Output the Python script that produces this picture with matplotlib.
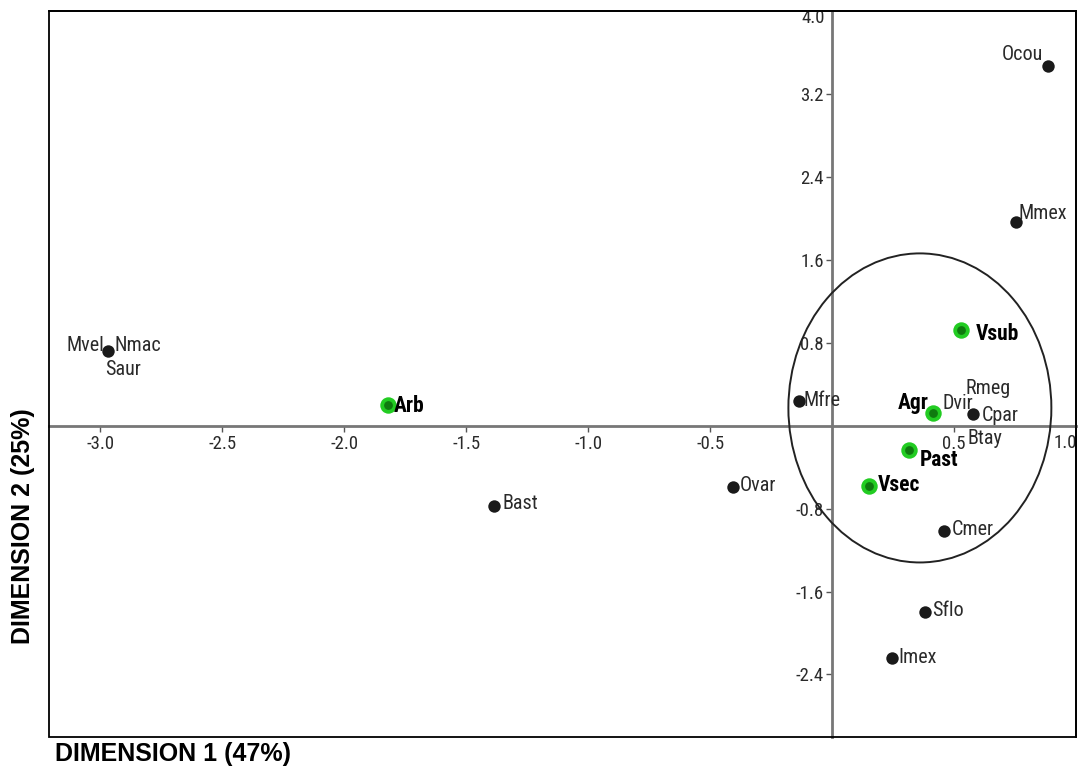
import matplotlib
matplotlib.use("Agg")
import matplotlib.pyplot as plt
from matplotlib.patches import Ellipse, Rectangle

# ---- data ----
species = ["Ocou", "Mmex", "Mvel", "Mfre", "Cpar", "Cmer", "Ovar", "Bast", "Sflo", "Imex"]
species_x = [0.885, 0.752, -2.967, -0.134, 0.576, 0.460, -0.406, -1.384, 0.382, 0.247]
species_y = [3.465, 1.960, 0.720, 0.237, 0.110, -1.018, -0.592, -0.771, -1.800, -2.244]

habitats = ["Vsub", "Arb", "Agr", "Past", "Vsec"]
habitat_x = [0.527, -1.820, 0.415, 0.317, 0.150]
habitat_y = [0.926, 0.199, 0.119, -0.233, -0.586]

# extra labels sharing a point with another species
shared_labels = [("Nmac", "Mvel"), ("Saur", "Mvel"), ("Dvir", "Agr"), ("Rmeg", "Cpar"), ("Btay", "Cpar")]

x_ticks = [-3.0, -2.5, -2.0, -1.5, -1.0, -0.5, 0.5]
y_ticks = [-2.4, -1.6, -0.8, 0.8, 1.6, 2.4, 3.2]

xlabel = "DIMENSION 1 (47%)"
ylabel = "DIMENSION 2 (25%)"

# ---- style ----
narrow = ["Roboto Condensed", "Liberation Sans"]

label_offsets = {  # pixel offsets (dx, dy upward), ha
    "Ocou": (-5, 12, "right"), "Mmex": (3, 9, "left"), "Mvel": (-4, 5, "right"),
    "Nmac": (6, 5, "left"), "Saur": (-3, -19, "left"), "Mfre": (4, 0, "left"),
    "Cpar": (9, -1, "left"), "Rmeg": (-7, 26, "left"), "Btay": (-5, -24, "left"),
    "Dvir": (9, 10, "left"), "Cmer": (7, 2, "left"), "Ovar": (7, 1, "left"),
    "Bast": (8, 2, "left"), "Sflo": (7, 2, "left"), "Imex": (6, 1, "left"),
    "Vsub": (15, -4, "left"), "Arb": (6, -1, "left"), "Agr": (-5, 10, "right"),
    "Past": (10, -10, "left"), "Vsec": (9, 1, "left"),
}

fig = plt.figure(figsize=(10.8, 7.73), dpi=100)
ax = fig.add_axes([49 / 1080, 1 - 736.7 / 773, (1076 - 49) / 1080, (736.7 - 10.7) / 773])
ax.set_xlim(-3.21, 1.0)
ax.set_ylim(-3.0, 4.0)

axis_gray = "#777777"
for s in ["top", "right"]:
    ax.spines[s].set_color("black")
    ax.spines[s].set_linewidth(1.3)
ax.spines["left"].set_position(("data", 0))
ax.spines["bottom"].set_position(("data", 0))
for s in ["left", "bottom"]:
    ax.spines[s].set_color(axis_gray)
    ax.spines[s].set_linewidth(2.0)
ax.add_patch(Rectangle((0, 0), 1, 1, transform=ax.transAxes, fill=False,
                       edgecolor="black", linewidth=1.3, clip_on=False, zorder=5))

ax.set_xticks(x_ticks)
ax.set_xticklabels([f"{v:.1f}" for v in x_ticks])
ax.set_yticks(y_ticks)
ax.set_yticklabels([f"{v:.1f}" for v in y_ticks])
ax.tick_params(axis="both", direction="out", length=4, width=1, color="#555555",
               labelsize=13.5, labelcolor="#2a2a2a")
ax.tick_params(axis="x", pad=3)
ax.tick_params(axis="y", pad=2)
for lab in ax.get_xticklabels() + ax.get_yticklabels():
    lab.set_family(narrow)
ax.text(-0.03, 3.93, "4.0", ha="right", va="center", fontsize=13.5, family=narrow, color="#2a2a2a")
ax.text(0.955, -0.165, "1.0", ha="center", va="center", fontsize=13.5, family=narrow, color="#2a2a2a")

# circle (correlation region)
ax.add_patch(Ellipse((0.36, 0.17), 1.078, 2.98, fill=False, edgecolor="#222222", linewidth=1.4, zorder=3))

# species points
ax.scatter(species_x, species_y, s=80, color="#1a1a1a", zorder=4, linewidths=0)
# habitat points
ax.scatter(habitat_x, habitat_y, s=140, color="#22cc22", zorder=4, linewidths=0)
ax.scatter(habitat_x, habitat_y, s=40, color="#0f7a0f", zorder=5, linewidths=0)

pos = {n: (x, y) for n, x, y in zip(species, species_x, species_y)}
pos.update({n: (x, y) for n, x, y in zip(habitats, habitat_x, habitat_y)})

def put(name, anchor, bold):
    dx, dy, ha = label_offsets[name]
    ax.annotate(name, pos[anchor], xytext=(dx, dy), textcoords="offset pixels",
                ha=ha, va="center", fontsize=15.5 if bold else 14.5,
                fontweight="bold" if bold else "normal",
                family=narrow, color="black" if bold else "#2a2a2a", zorder=6)

for n in species:
    put(n, n, False)
for n, anchor in shared_labels:
    put(n, anchor, False)
for n in habitats:
    put(n, n, True)

fig.text(55 / 1080, 1 - 754 / 773, xlabel, ha="left", va="center", fontsize=18,
         fontweight="bold", family="Liberation Sans")
fig.text(23 / 1080, 1 - 526 / 773, ylabel, ha="center", va="center", rotation=90,
         fontsize=18, fontweight="bold", family="Liberation Sans")

fig.savefig("out.png", dpi=100)
